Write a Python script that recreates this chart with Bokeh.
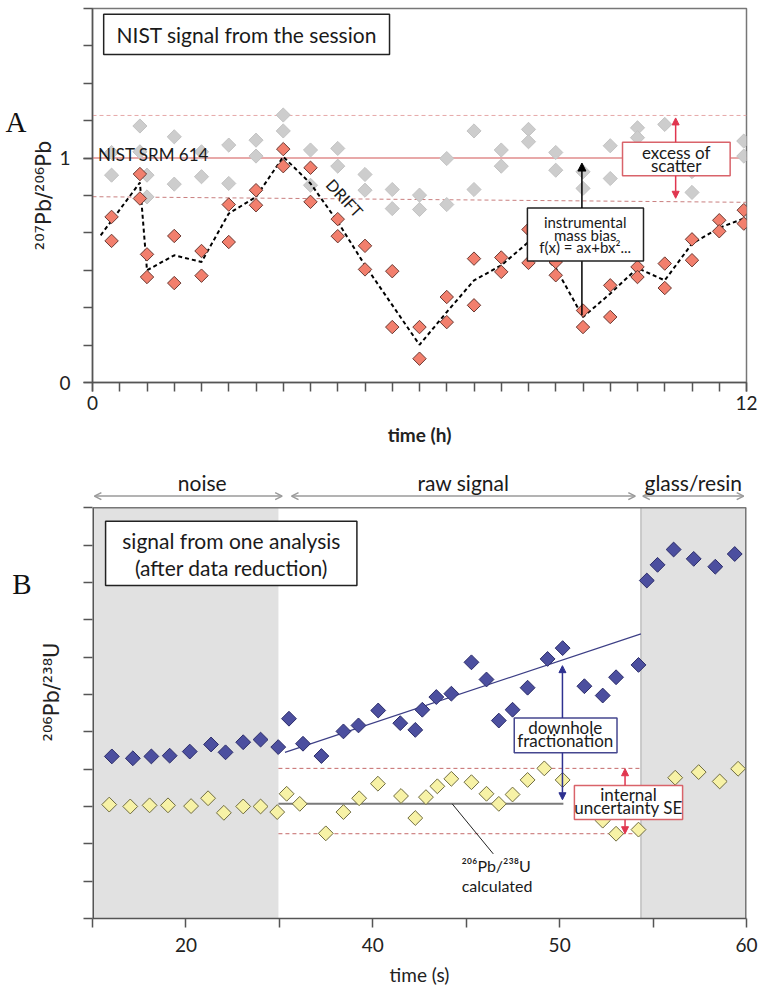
import numpy as np
from bokeh.plotting import figure
from bokeh.models import Range1d, FixedTicker, Label, Arrow, NormalHead, OpenHead, LinearAxis
from bokeh.layouts import column
from bokeh.embed import file_html
from bokeh.resources import INLINE

FONT = "Lato"
SERIF = "Liberation Serif"
AXFONT = "DejaVu Sans"

# ---------------- Panel A data (time in h, 207Pb/206Pb) ----------------
gray_x = [0.35, 0.35, 0.87, 0.87, 1.0, 1.0, 1.5, 1.5, 2.0, 2.0, 2.5, 2.5, 3.0, 3.0,
          3.5, 3.5, 4.0, 4.0, 4.5, 4.5, 5.0, 5.0, 5.5, 5.5, 6.0, 6.0, 6.5, 6.5,
          7.0, 7.0, 7.5, 7.5, 8.0, 8.0, 8.5, 8.5, 9.0, 9.0, 9.5, 9.5, 10.0, 10.0,
          10.5, 11.0, 11.0, 11.95, 11.95]
gray_y = [1.025, 0.924, 1.143, 1.028, 0.924, 0.827, 1.095, 0.884, 1.028, 0.917, 1.058, 0.887, 1.080, 1.009,
          1.192, 1.121, 1.036, 0.879, 1.043, 0.964, 0.927, 0.857, 0.860, 0.775, 0.835, 0.771, 0.998, 0.793,
          1.121, 0.860, 1.036, 0.964, 1.128, 1.073, 1.025, 0.946, 0.939, 0.865, 1.055, 0.909, 1.135, 1.091,
          1.150, 0.940, 0.847, 1.076, 1.009]

red_x = [0.35, 0.35, 0.87, 0.87, 1.0, 1.0, 1.5, 1.5, 2.0, 2.0, 2.5, 2.5, 3.0, 3.0,
         3.5, 3.5, 4.0, 4.0, 4.5, 4.5, 5.0, 5.0, 5.5, 5.5, 6.0, 6.0, 6.5, 6.5,
         7.0, 7.0, 7.5, 7.5, 8.0, 8.0, 8.5, 8.5, 9.0, 9.0, 9.5, 9.5, 10.0, 10.0,
         10.5, 10.5, 11.0, 11.0, 11.5, 11.5, 11.95, 11.95]
red_y = [0.738, 0.631, 0.929, 0.820, 0.571, 0.470, 0.653, 0.443, 0.586, 0.476, 0.793, 0.626, 0.857, 0.790,
         1.040, 0.964, 0.957, 0.805, 0.728, 0.652, 0.609, 0.504, 0.496, 0.247, 0.247, 0.106, 0.381, 0.269,
         0.552, 0.344, 0.557, 0.493, 0.682, 0.533, 0.537, 0.478, 0.321, 0.247, 0.433, 0.292, 0.515, 0.470,
         0.530, 0.421, 0.638, 0.545, 0.723, 0.674, 0.768, 0.708]

drift_x = [0.15, 0.87, 1.0, 1.5, 2.0, 2.5, 3.0, 3.5, 4.0, 4.5, 5.0, 6.0, 6.5, 7.0, 7.5, 8.0,
           8.5, 9.0, 9.5, 10.0, 10.5, 11.0, 11.5, 11.95]
drift_y = [0.656, 0.891, 0.500, 0.567, 0.537, 0.753, 0.827, 1.006, 0.887, 0.716, 0.522, 0.168, 0.314, 0.455, 0.522, 0.626,
           0.510, 0.292, 0.396, 0.510, 0.455, 0.619, 0.689, 0.731]

nist_ref = 1.0
scatter_hi = [1.19, 1.19]
scatter_lo = [0.828, 0.803]
a_xlim = [0, 12]

# ---------------- Panel B data (time tick index, 206Pb/238U tick units) ----------------
blue_t = [0.207, 0.432, 0.630, 0.826, 1.041, 1.269, 1.424, 1.613, 1.799, 1.988, 2.103, 2.253, 2.450,
          2.686, 2.847, 3.058, 3.294, 3.455, 3.530, 3.680, 3.841, 4.056, 4.217, 4.349, 4.496, 4.657,
          4.871, 5.032, 5.265, 5.461, 5.604, 5.844, 5.933, 6.048, 6.220, 6.435, 6.666, 6.874]
blue_v = [4.34, 4.29, 4.34, 4.36, 4.47, 4.66, 4.45, 4.72, 4.79, 4.59, 5.35, 4.68, 4.35,
          5.01, 5.17, 5.57, 5.23, 5.05, 5.59, 5.93, 6.02, 6.86, 6.40, 5.30, 5.59, 6.18,
          6.95, 7.24, 6.22, 5.97, 6.46, 6.79, 9.05, 9.47, 9.88, 9.63, 9.42, 9.76]

yel_t = [0.179, 0.404, 0.611, 0.808, 1.055, 1.237, 1.406, 1.613, 1.799, 1.977, 2.078, 2.218, 2.497,
         2.686, 2.854, 3.055, 3.302, 3.455, 3.569, 3.691, 3.841, 4.056, 4.217, 4.349, 4.496, 4.657,
         4.836, 5.032, 5.461, 5.604, 5.844, 6.237, 6.488, 6.713, 6.910]
yel_v = [3.05, 3.00, 3.03, 3.03, 3.01, 3.22, 2.83, 3.00, 3.00, 2.85, 3.34, 3.07, 2.28,
         2.85, 3.22, 3.61, 3.28, 2.69, 3.25, 3.54, 3.74, 3.65, 3.34, 3.07, 3.32, 3.71,
         4.02, 3.71, 2.62, 2.27, 2.38, 3.77, 3.92, 3.67, 4.01]

fit_t = [2.06, 5.87]
fit_v = [4.45, 7.62]
calc_t = [1.99, 5.04]
calc_v = [3.07, 3.07]
se_t = [1.99, 5.86]
se_hi = [4.02, 4.02]
se_lo = [2.27, 2.27]
noise_span = [0.0, 1.99]
resin_span = [5.87, 7.0]
b_ylim = [0, 11]
time_ticks = [1, 3, 5, 7]
time_labels = ["20", "40", "50", "60"]
segments = [("noise", 0.02, 2.03), ("raw signal", 2.13, 5.81), ("glass/resin", 5.89, 6.97)]

AX = "#555555"
BOX = "#777777"
B_TOP = 12.13  # extra headroom above the box for the segment labels


def style_axes(p):
    p.grid.visible = False
    p.background_fill_color = "white"
    p.border_fill_color = "white"
    for ax in p.axis:
        ax.axis_line_color = AX
        ax.axis_line_width = 1.5
        ax.major_tick_line_color = AX
        ax.major_tick_line_width = 1.5
        ax.minor_tick_line_color = AX
        ax.minor_tick_line_width = 1.5
        ax.major_tick_in = 0
        ax.major_tick_out = 9
        ax.minor_tick_in = 0
        ax.minor_tick_out = 9
        ax.major_label_text_font = FONT
        ax.major_label_text_font_size = "19px"
        ax.major_label_text_color = "#222222"
        ax.axis_label_text_font_style = "normal"
        ax.axis_label_text_color = "#222222"


def letter_axis(p, ypos, letter, standoff):
    ax = LinearAxis(ticker=FixedTicker(ticks=[ypos], minor_ticks=[]),
                    major_label_overrides={ypos: letter},
                    axis_line_color=None, major_tick_line_color=None, minor_tick_line_color=None,
                    major_tick_out=0, major_tick_in=0,
                    major_label_text_font=SERIF, major_label_text_font_size="29px",
                    major_label_text_color="#111111", major_label_standoff=standoff)
    p.add_layout(ax, "left")


def label(p, x, y, text, size="17px", font=FONT, color="#1a1a1a", align="center",
          baseline="middle", angle=0, style="normal"):
    p.add_layout(Label(x=x, y=y, text=text, text_font=font, text_font_size=size,
                       text_color=color, text_align=align, text_baseline=baseline,
                       angle=angle, text_font_style=style))


# ================= Panel A =================
p1 = figure(width=767, height=460, x_range=Range1d(0, 12), y_range=Range1d(0, 10 / 6),
            output_backend="svg", toolbar_location=None,
            min_border_left=92, min_border_right=21, min_border_top=8, min_border_bottom=78)
style_axes(p1)
p1.outline_line_color = BOX
p1.outline_line_width = 1.5
p1.xaxis.ticker = FixedTicker(ticks=[0, 12], minor_ticks=[0.5 * k for k in range(25)])
p1.yaxis.ticker = FixedTicker(ticks=[0, 1], minor_ticks=[k / 6 for k in range(11)])
p1.xaxis.major_label_standoff = 4
p1.xaxis.axis_label = "time (h)"
p1.xaxis.axis_label_text_font = FONT
p1.xaxis.axis_label_text_font_size = "19px"
p1.xaxis.axis_label_text_font_style = "bold"
p1.xaxis.axis_label_standoff = 10
p1.yaxis.major_label_standoff = 13
p1.yaxis.axis_label = "²⁰⁷Pb/²⁰⁶Pb"
p1.yaxis.axis_label_text_font = AXFONT
p1.yaxis.axis_label_text_font_size = "21px"
p1.yaxis.axis_label_standoff = 0
letter_axis(p1, 1.162, "A", 3)

p1.line(a_xlim, [nist_ref, nist_ref], line_color="#e08c8c", line_width=1.5)
p1.line(a_xlim, scatter_hi, line_color="#e6a9a9", line_width=1, line_dash="4 3")
p1.line(a_xlim, scatter_lo, line_color="#c97f7f", line_width=1, line_dash="4 3")
p1.scatter(gray_x, gray_y, marker="square", angle=np.pi / 4, size=10,
           fill_color="#cdcdcd", line_color="#c3c3c3", line_width=1)
p1.line(drift_x, drift_y, line_color="black", line_width=2, line_dash="4 3")
p1.scatter(red_x, red_y, marker="square", angle=np.pi / 4, size=9.5,
           fill_color="#f27f6d", line_color="#6a3a33", line_width=1)

# annotation boxes
p1.quad(left=[0.205], right=[5.45], bottom=[1.462], top=[1.641], fill_color="white",
        line_color="#222222", line_width=1.5)
label(p1, 2.83, 1.551, "NIST signal from the session", size="21px")

p1.segment(x0=[8.98], y0=[0.30], x1=[8.98], y1=[0.542], line_color="black", line_width=1.5)
p1.add_layout(Arrow(x_start=8.98, y_start=0.778, x_end=8.98, y_end=0.978, line_color="black",
                    line_width=1.5, end=NormalHead(size=8, fill_color="black", line_color="black")))
p1.quad(left=[7.98], right=[10.11], bottom=[0.542], top=[0.778], fill_color="white",
        line_color="#222222", line_width=1.5)
label(p1, 9.04, 0.717, "instrumental", size="15px")
label(p1, 9.04, 0.659, "mass bias", size="15px")
label(p1, 9.04, 0.603, "f(x) = ax+bx²...", size="15px")

RED = "#e0364f"
p1.quad(left=[9.725], right=[11.70], bottom=[0.921], top=[1.071], fill_color="white",
        line_color="#d9636a", line_width=1.5)
label(p1, 10.71, 1.027, "excess of", size="17px")
label(p1, 10.71, 0.967, "scatter", size="17px")
p1.add_layout(Arrow(x_start=10.70, y_start=1.071, x_end=10.70, y_end=1.179, line_color=RED,
                    line_width=1.5, end=NormalHead(size=7, fill_color=RED, line_color=RED)))
p1.add_layout(Arrow(x_start=10.70, y_start=0.921, x_end=10.70, y_end=0.821, line_color=RED,
                    line_width=1.5, end=NormalHead(size=7, fill_color=RED, line_color=RED)))

label(p1, 0.10, 1.015, "NIST SRM  614", size="17px", align="left", baseline="alphabetic")
label(p1, 4.63, 0.823, "DRIFT", size="16px", angle=-0.82)

# ================= Panel B =================
p2 = figure(width=767, height=528, x_range=Range1d(0, 7), y_range=Range1d(0, B_TOP),
            output_backend="svg", toolbar_location=None,
            min_border_left=92, min_border_right=21, min_border_top=5, min_border_bottom=70)
style_axes(p2)
p2.outline_line_color = None
p2.xaxis.ticker = FixedTicker(ticks=time_ticks, minor_ticks=[0, 2, 4, 6])
p2.xaxis.major_label_overrides = dict(zip(time_ticks, time_labels))
p2.xaxis.major_label_standoff = 10
p2.xaxis.axis_label = "time (s)"
p2.xaxis.axis_label_text_font = FONT
p2.xaxis.axis_label_text_font_size = "19px"
p2.xaxis.axis_label_standoff = 8
p2.yaxis.ticker = FixedTicker(ticks=[], minor_ticks=list(range(b_ylim[1] + 1)))
p2.yaxis.axis_line_color = None
p2.yaxis.major_label_standoff = 0
p2.yaxis.axis_label = "²⁰⁶Pb/²³⁸U"
p2.yaxis.axis_label_text_font = AXFONT
p2.yaxis.axis_label_text_font_size = "21px"
p2.yaxis.axis_label_standoff = 20
letter_axis(p2, 8.97, "B", 5)

p2.quad(left=[noise_span[0], resin_span[0]], right=[noise_span[1], resin_span[1]],
        bottom=b_ylim[0], top=b_ylim[1], fill_color="#e1e1e1", line_color=None)
p2.line([resin_span[0], resin_span[0]], b_ylim, line_color="#a8a8a8", line_width=1)
# box border (the frame extends above it for the segment labels)
p2.line([0, 0], b_ylim, line_color=AX, line_width=3)
p2.line([7, 7], b_ylim, line_color=BOX, line_width=3)
p2.line([0, 7], [b_ylim[1], b_ylim[1]], line_color=BOX, line_width=1.5)

p2.line(se_t, se_hi, line_color="#c46a6a", line_width=1, line_dash="4 3")
p2.line(se_t, se_lo, line_color="#c46a6a", line_width=1, line_dash="4 3")
p2.line(calc_t, calc_v, line_color="#7a7a7a", line_width=2)
p2.line(fit_t, fit_v, line_color="#3d3f86", line_width=1.2)
p2.segment(x0=[3.85], y0=[3.07], x1=[4.29], y1=[1.73], line_color="#222222", line_width=1)

p2.scatter(blue_t, blue_v, marker="square", angle=np.pi / 4, size=10.5,
           fill_color="#4c4f9f", line_color="#2c2d6a", line_width=1)
p2.scatter(yel_t, yel_v, marker="square", angle=np.pi / 4, size=10.5,
           fill_color="#f7f2a6", line_color="#6f6c40", line_width=1)

# title box
p2.quad(left=[0.14], right=[2.83], bottom=[8.92], top=[10.64], fill_color="white",
        line_color="#222222", line_width=1.5)
label(p2, 1.486, 10.12, "signal from one analysis", size="21px")
label(p2, 1.486, 9.41, "(after data reduction)", size="21px")

# downhole fractionation
BLUE = "#2e3190"
p2.add_layout(Arrow(x_start=5.03, y_start=5.37, x_end=5.03, y_end=6.77, line_color=BLUE,
                    line_width=1.5, end=NormalHead(size=7, fill_color=BLUE, line_color=BLUE)))
p2.add_layout(Arrow(x_start=5.03, y_start=4.44, x_end=5.03, y_end=3.18, line_color=BLUE,
                    line_width=1.5, end=NormalHead(size=7, fill_color=BLUE, line_color=BLUE)))
p2.quad(left=[4.514], right=[5.614], bottom=[4.44], top=[5.37], fill_color="white",
        line_color="#45478f", line_width=1.5)
label(p2, 5.06, 5.12, "downhole", size="17px")
label(p2, 5.06, 4.77, "fractionation", size="17px")

# internal uncertainty
p2.add_layout(Arrow(x_start=5.70, y_start=3.56, x_end=5.70, y_end=4.01, line_color=RED,
                    line_width=1.5, end=NormalHead(size=7, fill_color=RED, line_color=RED)))
p2.add_layout(Arrow(x_start=5.70, y_start=2.65, x_end=5.70, y_end=2.27, line_color=RED,
                    line_width=1.5, end=NormalHead(size=7, fill_color=RED, line_color=RED)))
p2.quad(left=[5.158], right=[6.316], bottom=[2.65], top=[3.56], fill_color="white",
        line_color="#d9636a", line_width=1.5)
label(p2, 5.737, 3.32, "internal", size="17px")
label(p2, 5.737, 2.96, "uncertainty SE", size="17px")

label(p2, 4.32, 1.42, "²⁰⁶Pb/²³⁸U", size="16px")
label(p2, 4.33, 0.88, "calculated", size="16px")

# segment arrows above the box
GR = "#9a9a9a"
for name, a, b in segments:
    p2.add_layout(Arrow(x_start=a, y_start=11.31, x_end=b, y_end=11.31, line_color=GR, line_width=1.5,
                        start=OpenHead(size=7, line_color=GR, line_width=1.5),
                        end=OpenHead(size=7, line_color=GR, line_width=1.5)))
    label(p2, (a + b) / 2 + (0.15 if name == "noise" else 0.0), 11.68, name, size="21px")

layout = column(p1, p2, spacing=0)
open("out.html", "w").write(file_html(layout, INLINE))
